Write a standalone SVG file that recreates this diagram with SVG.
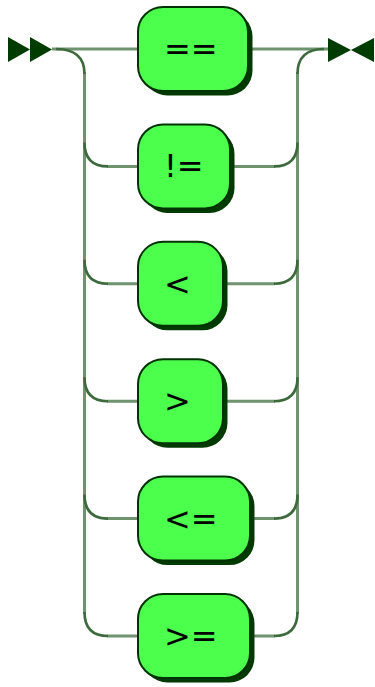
<svg xmlns="http://www.w3.org/2000/svg" width="375" height="687" viewBox="0 0 375 687">
<defs>
<style>
.line{fill:none;stroke:#6f926f;stroke-width:3}
.curve{fill:none;stroke:#3d6a3d;stroke-width:2.6}
.mark{fill:#003c00}
.box{fill:#4cff4c;stroke:#003300;stroke-width:2}
.shadow{fill:#003a00}
.t{font-family:"DejaVu Sans",sans-serif;font-size:32px;fill:#000}
</style>
</defs>
<rect width="375" height="687" fill="#ffffff"/>
<g id="connectors">
<polygon class="mark" points="8,37 8,62 30,49.5"/>
<polygon class="mark" points="30,37 30,62 52,49.5"/>
<polygon class="mark" points="328,38 328,62 351,50"/>
<polygon class="mark" points="374,38 374,62 351,50"/>
<path class="line" d="M52,49 H138 M250,49 H328"/>
<path class="line" d="M84.5,72 V614 M297.5,72 V614"/>
<path class="curve" d="M56,49 Q84.5,49 84.5,74"/>
<path class="curve" d="M324,49 Q297.5,49 297.5,74"/>
<path class="line" d="M107,166.4 H138 M230,166.4 H275"/>
<path class="line" d="M107,283.8 H138 M223,283.8 H275"/>
<path class="line" d="M107,401.2 H138 M223,401.2 H275"/>
<path class="line" d="M107,518.6 H138 M250,518.6 H275"/>
<path class="line" d="M107,636 H138 M250,636 H275"/>
<path class="curve" d="M84.5,142.4 Q84.5,166.4 108,166.4 M297.5,142.4 Q297.5,166.4 274,166.4"/>
<path class="curve" d="M84.5,259.8 Q84.5,283.8 108,283.8 M297.5,259.8 Q297.5,283.8 274,283.8"/>
<path class="curve" d="M84.5,377.2 Q84.5,401.2 108,401.2 M297.5,377.2 Q297.5,401.2 274,401.2"/>
<path class="curve" d="M84.5,494.6 Q84.5,518.6 108,518.6 M297.5,494.6 Q297.5,518.6 274,518.6"/>
<path class="curve" d="M84.5,612 Q84.5,636 108,636 M297.5,612 Q297.5,636 274,636"/>
</g>
<g id="node-eq">
<rect class="shadow" x="142.5" y="11.5" width="110" height="84" rx="25"/>
<rect class="box" x="138" y="7" width="110" height="84" rx="25"/>
<text class="t" x="164" y="60">==</text>
</g>
<g id="node-ne">
<rect class="shadow" x="142.5" y="128.9" width="92" height="84" rx="25"/>
<rect class="box" x="138" y="124.4" width="92" height="84" rx="25"/>
<text class="t" x="164" y="177.4">!=</text>
</g>
<g id="node-lt">
<rect class="shadow" x="142.5" y="246.3" width="85" height="84" rx="25"/>
<rect class="box" x="138" y="241.8" width="85" height="84" rx="25"/>
<text class="t" x="164" y="294.8">&lt;</text>
</g>
<g id="node-gt">
<rect class="shadow" x="142.5" y="363.7" width="85" height="84" rx="25"/>
<rect class="box" x="138" y="359.2" width="85" height="84" rx="25"/>
<text class="t" x="164" y="412.2">&gt;</text>
</g>
<g id="node-le">
<rect class="shadow" x="142.5" y="481.1" width="112" height="84" rx="25"/>
<rect class="box" x="138" y="476.6" width="112" height="84" rx="25"/>
<text class="t" x="164" y="529.6">&lt;=</text>
</g>
<g id="node-ge">
<rect class="shadow" x="142.5" y="598.5" width="112" height="84" rx="25"/>
<rect class="box" x="138" y="594" width="112" height="84" rx="25"/>
<text class="t" x="164" y="647">&gt;=</text>
</g>
</svg>
